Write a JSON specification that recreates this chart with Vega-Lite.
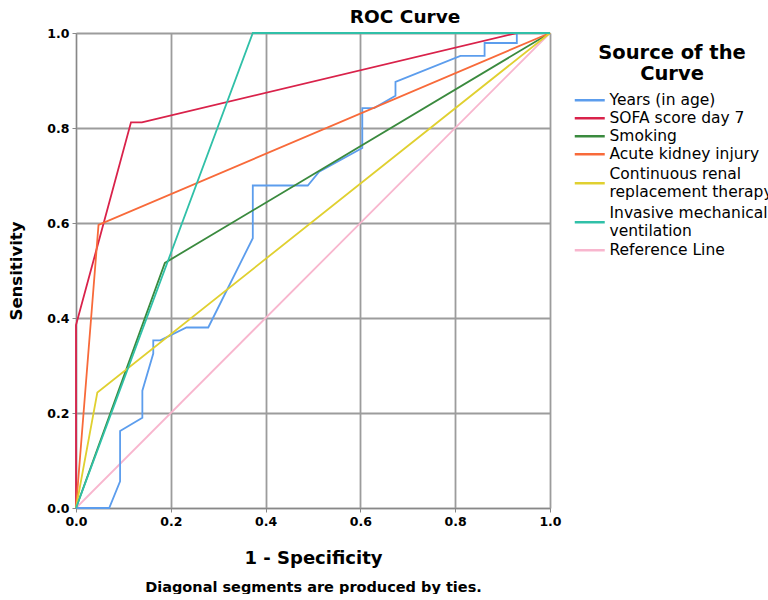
{
  "$schema": "https://vega.github.io/schema/vega-lite/v6.json",
  "width": 474,
  "height": 475,
  "padding": {"left": 8, "top": 7, "right": 0, "bottom": 0},
  "config": {
    "font": "DejaVu Sans",
    "view": {"stroke": "#d0d0d0", "strokeWidth": 1},
    "axis": {
      "gridColor": "#9c9c9c", "gridWidth": 1.8, "domainColor": "#888888", "tickColor": "#888888",
      "tickSize": 4, "labelFontSize": 12.5, "labelFontWeight": "bold", "labelColor": "#000000",
      "titleColor": "#000000", "titleFontWeight": "bold", "labelFlush": false
    }
  },
  "title": {"text": "ROC Curve", "anchor": "start", "dx": 341, "fontSize": 18.5, "fontWeight": "bold", "offset": 1, "color": "#000000"},
  "data": {
    "values": [
      {"curve": "Reference Line", "ord": 0, "fpr": 0, "tpr": 0},
      {"curve": "Reference Line", "ord": 1, "fpr": 1, "tpr": 1},
      {"curve": "Years (in age)", "ord": 0, "fpr": 0, "tpr": 0},
      {"curve": "Years (in age)", "ord": 1, "fpr": 0.07, "tpr": 0},
      {"curve": "Years (in age)", "ord": 2, "fpr": 0.093, "tpr": 0.056},
      {"curve": "Years (in age)", "ord": 3, "fpr": 0.093, "tpr": 0.162},
      {"curve": "Years (in age)", "ord": 4, "fpr": 0.14, "tpr": 0.19},
      {"curve": "Years (in age)", "ord": 5, "fpr": 0.14, "tpr": 0.247},
      {"curve": "Years (in age)", "ord": 6, "fpr": 0.163, "tpr": 0.325},
      {"curve": "Years (in age)", "ord": 7, "fpr": 0.163, "tpr": 0.353},
      {"curve": "Years (in age)", "ord": 8, "fpr": 0.178, "tpr": 0.353},
      {"curve": "Years (in age)", "ord": 9, "fpr": 0.233, "tpr": 0.38},
      {"curve": "Years (in age)", "ord": 10, "fpr": 0.279, "tpr": 0.38},
      {"curve": "Years (in age)", "ord": 11, "fpr": 0.373, "tpr": 0.568},
      {"curve": "Years (in age)", "ord": 12, "fpr": 0.373, "tpr": 0.679},
      {"curve": "Years (in age)", "ord": 13, "fpr": 0.489, "tpr": 0.679},
      {"curve": "Years (in age)", "ord": 14, "fpr": 0.513, "tpr": 0.708},
      {"curve": "Years (in age)", "ord": 15, "fpr": 0.604, "tpr": 0.758},
      {"curve": "Years (in age)", "ord": 16, "fpr": 0.604, "tpr": 0.842},
      {"curve": "Years (in age)", "ord": 17, "fpr": 0.629, "tpr": 0.842},
      {"curve": "Years (in age)", "ord": 18, "fpr": 0.674, "tpr": 0.868},
      {"curve": "Years (in age)", "ord": 19, "fpr": 0.674, "tpr": 0.897},
      {"curve": "Years (in age)", "ord": 20, "fpr": 0.811, "tpr": 0.952},
      {"curve": "Years (in age)", "ord": 21, "fpr": 0.862, "tpr": 0.952},
      {"curve": "Years (in age)", "ord": 22, "fpr": 0.862, "tpr": 0.979},
      {"curve": "Years (in age)", "ord": 23, "fpr": 0.93, "tpr": 0.979},
      {"curve": "Years (in age)", "ord": 24, "fpr": 0.93, "tpr": 1.0},
      {"curve": "Years (in age)", "ord": 25, "fpr": 1, "tpr": 1},
      {"curve": "SOFA score day 7", "ord": 0, "fpr": 0, "tpr": 0},
      {"curve": "SOFA score day 7", "ord": 1, "fpr": 0, "tpr": 0.385},
      {"curve": "SOFA score day 7", "ord": 2, "fpr": 0.116, "tpr": 0.812},
      {"curve": "SOFA score day 7", "ord": 3, "fpr": 0.139, "tpr": 0.812},
      {"curve": "SOFA score day 7", "ord": 4, "fpr": 0.93, "tpr": 1},
      {"curve": "SOFA score day 7", "ord": 5, "fpr": 1, "tpr": 1},
      {"curve": "Smoking", "ord": 0, "fpr": 0, "tpr": 0},
      {"curve": "Smoking", "ord": 1, "fpr": 0.1875, "tpr": 0.516},
      {"curve": "Smoking", "ord": 2, "fpr": 1, "tpr": 1},
      {"curve": "Acute kidney injury", "ord": 0, "fpr": 0, "tpr": 0},
      {"curve": "Acute kidney injury", "ord": 1, "fpr": 0.0475, "tpr": 0.596},
      {"curve": "Acute kidney injury", "ord": 2, "fpr": 1, "tpr": 1},
      {"curve": "Continuous renal replacement therapy", "ord": 0, "fpr": 0, "tpr": 0},
      {"curve": "Continuous renal replacement therapy", "ord": 1, "fpr": 0.045, "tpr": 0.243},
      {"curve": "Continuous renal replacement therapy", "ord": 2, "fpr": 1, "tpr": 1},
      {"curve": "Invasive mechanical ventilation", "ord": 0, "fpr": 0, "tpr": 0},
      {"curve": "Invasive mechanical ventilation", "ord": 1, "fpr": 0.373, "tpr": 1},
      {"curve": "Invasive mechanical ventilation", "ord": 2, "fpr": 1, "tpr": 1}
    ]
  },
  "layer": [
    {
      "transform": [{"filter": "datum.curve === 'Reference Line'"}],
      "mark": {"type": "line", "strokeWidth": 1.8},
      "encoding": {
        "x": {"field": "fpr", "type": "quantitative", "scale": {"domain": [0, 1]},
          "axis": {"orient": "bottom", "title": "Diagonal segments are produced by ties.", "labels": false, "ticks": false, "domain": false, "grid": false, "titleFontSize": 14.5, "titlePadding": 6, "offset": 66}},
        "y": {"field": "tpr", "type": "quantitative", "scale": {"domain": [0, 1]},
          "axis": {"title": "Sensitivity", "titleFontSize": 16.5, "titlePadding": 22, "tickCount": 5, "labelPadding": 3, "grid": true}},
        "color": {"field": "curve", "type": "nominal",
          "scale": {"domain": ["Years (in age)", "SOFA score day 7", "Smoking", "Acute kidney injury", "Continuous renal replacement therapy", "Invasive mechanical ventilation", "Reference Line"],
                    "range": ["#5c9ded", "#d9224a", "#3a8a3e", "#f86a3a", "#e0d030", "#30c0a8", "#f8b6ce"]}},
        "order": {"field": "ord", "type": "quantitative"}
      }
    },
    {
      "transform": [{"filter": "datum.curve !== 'Reference Line'"}],
      "mark": {"type": "line", "strokeWidth": 1.8},
      "encoding": {
        "x": {"field": "fpr", "type": "quantitative", "scale": {"domain": [0, 1]},
          "axis": {"orient": "bottom", "title": "1 - Specificity", "titleFontSize": 18, "titlePadding": 22, "tickCount": 5, "labelPadding": 3, "grid": true}},
        "y": {"field": "tpr", "type": "quantitative", "scale": {"domain": [0, 1]},
          "axis": {"title": "Sensitivity", "titleFontSize": 16.5, "titlePadding": 22, "tickCount": 5, "labelPadding": 3, "grid": true}},
        "color": {"field": "curve", "type": "nominal",
          "scale": {"domain": ["Years (in age)", "SOFA score day 7", "Smoking", "Acute kidney injury", "Continuous renal replacement therapy", "Invasive mechanical ventilation", "Reference Line"],
                    "range": ["#5c9ded", "#d9224a", "#3a8a3e", "#f86a3a", "#e0d030", "#30c0a8", "#f8b6ce"]},
          "legend": {
            "title": ["Source of the", "Curve"], "titleFontSize": 19.5, "titleFontWeight": "bold", "titleColor": "#000000",
            "titleAnchor": "middle", "titleAlign": "center", "titleLineHeight": 21, "titlePadding": 8,
            "labelFontSize": 15.5, "labelLineHeight": 18, "labelColor": "#000000", "labelLimit": 400, "labelOffset": 22,
            "symbolType": "M-1,0H5", "symbolSize": 100, "symbolStrokeWidth": 2.5, "rowPadding": 1, "offset": 7, "padding": 11,
            "labelExpr": "datum.label === 'Continuous renal replacement therapy' ? ['Continuous renal', 'replacement therapy'] : datum.label === 'Invasive mechanical ventilation' ? ['Invasive mechanical', 'ventilation'] : datum.label",
            "encode": {
              "labels": {"update": {"dy": {"signal": "datum.value === 'Continuous renal replacement therapy' || datum.value === 'Invasive mechanical ventilation' ? -9 : 0"}}},
              "symbols": {"update": {"shape": {"signal": "datum.value === 'Continuous renal replacement therapy' || datum.value === 'Invasive mechanical ventilation' ? 'M-1,0H5M2,-2.7M2,2.7' : 'M-1,0H5'"}}}
            }
          }},
        "order": {"field": "ord", "type": "quantitative"}
      }
    }
  ],
  "resolve": {"axis": {"x": "independent"}}
}
